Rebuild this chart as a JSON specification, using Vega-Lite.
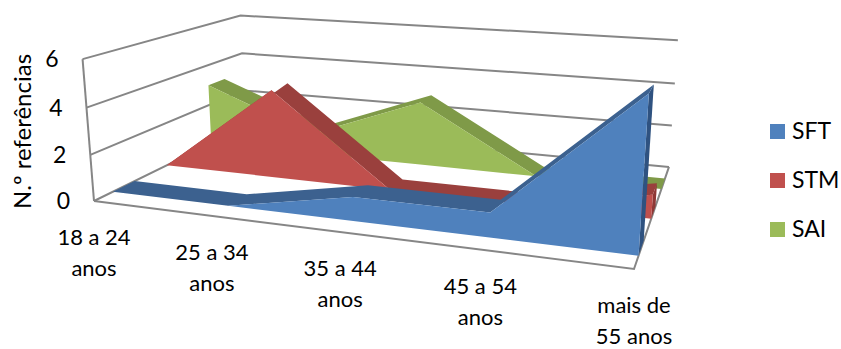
{
  "$schema": "https://vega.github.io/schema/vega-lite/v6.json",
  "autosize": {"type": "none"},
  "width": 841,
  "height": 349,
  "padding": 0,
  "background": "white",
  "config": {"view": {"stroke": null}},
  "datasets": {
    "walls": [
      {"edge": "v0", "seq": 0, "along": 0, "depth": 0, "value": 0},
      {"edge": "v0", "seq": 1, "along": 0, "depth": 1, "value": 0},
      {"edge": "v0", "seq": 2, "along": 1, "depth": 1, "value": 0},
      {"edge": "v2", "seq": 0, "along": 0, "depth": 0, "value": 2},
      {"edge": "v2", "seq": 1, "along": 0, "depth": 1, "value": 2},
      {"edge": "v2", "seq": 2, "along": 1, "depth": 1, "value": 2},
      {"edge": "v4", "seq": 0, "along": 0, "depth": 0, "value": 4},
      {"edge": "v4", "seq": 1, "along": 0, "depth": 1, "value": 4},
      {"edge": "v4", "seq": 2, "along": 1, "depth": 1, "value": 4},
      {"edge": "v6", "seq": 0, "along": 0, "depth": 0, "value": 6},
      {"edge": "v6", "seq": 1, "along": 0, "depth": 1, "value": 6},
      {"edge": "v6", "seq": 2, "along": 1, "depth": 1, "value": 6},
      {"edge": "floor", "seq": 0, "along": 0, "depth": 0, "value": 0},
      {"edge": "floor", "seq": 1, "along": 1, "depth": 0, "value": 0},
      {"edge": "floor", "seq": 2, "along": 1, "depth": 1, "value": 0},
      {"edge": "post", "seq": 0, "along": 0, "depth": 0, "value": 0},
      {"edge": "post", "seq": 1, "along": 0, "depth": 0, "value": 6}
    ],
    "categories": [
      {"label": "18 a 24\nanos", "along": 0},
      {"label": "25 a 34\nanos", "along": 0.25},
      {"label": "35 a 44\nanos", "along": 0.5},
      {"label": "45 a 54\nanos", "along": 0.75},
      {"label": "mais de\n55 anos", "along": 1}
    ],
    "ticks": [{"value": 0}, {"value": 2}, {"value": 4}, {"value": 6}]
  },
  "data": {
    "values": [
      {"series": "SFT", "cat": 0, "value": 0},
      {"series": "SFT", "cat": 1, "value": 0},
      {"series": "SFT", "cat": 2, "value": 1},
      {"series": "SFT", "cat": 3, "value": 1},
      {"series": "SFT", "cat": 4, "value": 6},
      {"series": "STM", "cat": 0, "value": 0},
      {"series": "STM", "cat": 1, "value": 4},
      {"series": "STM", "cat": 2, "value": 0},
      {"series": "STM", "cat": 3, "value": 0},
      {"series": "STM", "cat": 4, "value": 1},
      {"series": "SAI", "cat": 0, "value": 3},
      {"series": "SAI", "cat": 1, "value": 1},
      {"series": "SAI", "cat": 2, "value": 3},
      {"series": "SAI", "cat": 3, "value": 0},
      {"series": "SAI", "cat": 4, "value": 0}
    ]
  },
  "transform": [
    {"calculate": "datum.cat / 4", "as": "along"},
    {"calculate": "datum.series === 'SFT' ? 0.10 : datum.series === 'STM' ? 0.42 : 0.73", "as": "front"},
    {"calculate": "datum.value / 6", "as": "ft"},
    {"calculate": "0", "as": "fb"},
    {"calculate": "datum.value / 6", "as": "bt"},
    {"calculate": "0", "as": "bb"},
    {"fold": ["ft", "fb", "bt", "bb"], "as": ["corner", "t"]},
    {"calculate": "datum.front + (datum.corner === 'bt' || datum.corner === 'bb' ? 0.122 : 0)", "as": "depth"},
    {"calculate": "1 - 0.162 * datum.along + 0.287 * datum.depth - 0.036 * datum.t", "as": "w"},
    {"calculate": "(437.3 * datum.along + 221.3 * datum.depth + 94 - 14.4 * datum.t) / datum.w", "as": "xp"},
    {"calculate": "(24.4 * datum.along - 37.6 * datum.depth + 201 - 144 * datum.t) / datum.w", "as": "yp"},
    {"calculate": "datum.corner === 'ft' ? datum.along : 2 - datum.along", "as": "faceOrder"},
    {"calculate": "datum.corner === 'bt' ? 2 - datum.along : datum.along", "as": "stripOrder"},
    {"calculate": "indexof(['fb', 'ft', 'bt', 'bb'], datum.corner)", "as": "endOrder"}
  ],
  "encoding": {
    "x": {"field": "xp", "type": "quantitative", "scale": {"domain": [0, 841], "nice": false, "zero": false}, "axis": null},
    "y": {
      "field": "yp",
      "type": "quantitative",
      "scale": {"domain": [349, 0], "nice": false, "zero": false},
      "axis": {
        "title": "N.º referências",
        "labels": false,
        "ticks": false,
        "domain": false,
        "grid": false,
        "titleFont": "Lato",
        "titleFontSize": 24,
        "titleFontWeight": "normal",
        "titleColor": "#000000",
        "titleAngle": 270,
        "titleAlign": "center",
        "titleBaseline": "middle",
        "titleX": 23,
        "titleY": 131
      }
    }
  },
  "layer": [
    {
      "data": {"name": "walls"},
      "transform": [
        {"calculate": "datum.value / 6", "as": "t"},
        {"calculate": "1 - 0.162 * datum.along + 0.287 * datum.depth - 0.036 * datum.t", "as": "w"},
        {"calculate": "(437.3 * datum.along + 221.3 * datum.depth + 94 - 14.4 * datum.t) / datum.w", "as": "xp"},
        {"calculate": "(24.4 * datum.along - 37.6 * datum.depth + 201 - 144 * datum.t) / datum.w", "as": "yp"}
      ],
      "mark": {"type": "line", "stroke": "#868686", "strokeWidth": 2},
      "encoding": {"detail": {"field": "edge"}, "order": {"field": "seq", "type": "quantitative"}}
    },
    {
      "transform": [{"filter": "datum.series === 'SAI' && datum.along === 1"}],
      "mark": {"type": "line", "fill": "#7F9A48", "strokeWidth": 0},
      "encoding": {"order": {"field": "endOrder", "type": "quantitative"}}
    },
    {
      "transform": [{"filter": "datum.series === 'SAI' && (datum.corner === 'ft' || datum.corner === 'bt')"}],
      "mark": {"type": "line", "fill": "#7F9A48", "strokeWidth": 0},
      "encoding": {"order": {"field": "stripOrder", "type": "quantitative"}}
    },
    {
      "transform": [{"filter": "datum.series === 'SAI' && (datum.corner === 'ft' || datum.corner === 'fb')"}],
      "mark": {"type": "line", "strokeWidth": 0},
      "encoding": {
        "fill": {"field": "series", "type": "nominal", "scale": {"domain": ["SFT", "STM", "SAI"], "range": ["#4F81BD", "#C0504D", "#9BBB59"]},
          "legend": {"title": null, "orient": "none", "legendX": 766, "legendY": 120, "symbolType": "square", "symbolSize": 225, "symbolStrokeWidth": 0, "labelFont": "Lato", "labelFontSize": 23, "labelColor": "#000000", "rowPadding": 25, "labelOffset": 3}},
        "order": {"field": "faceOrder", "type": "quantitative"}
      }
    },
    {
      "transform": [{"filter": "datum.series === 'STM' && datum.along === 1"}],
      "mark": {"type": "line", "fill": "#8E3836", "strokeWidth": 0},
      "encoding": {"order": {"field": "endOrder", "type": "quantitative"}}
    },
    {
      "transform": [{"filter": "datum.series === 'STM' && (datum.corner === 'ft' || datum.corner === 'bt')"}],
      "mark": {"type": "line", "fill": "#9A403D", "strokeWidth": 0},
      "encoding": {"order": {"field": "stripOrder", "type": "quantitative"}}
    },
    {
      "transform": [{"filter": "datum.series === 'STM' && (datum.corner === 'ft' || datum.corner === 'fb')"}],
      "mark": {"type": "line", "strokeWidth": 0},
      "encoding": {
        "fill": {"field": "series", "type": "nominal"},
        "order": {"field": "faceOrder", "type": "quantitative"}
      }
    },
    {
      "transform": [{"filter": "datum.series === 'SFT' && datum.along === 1"}],
      "mark": {"type": "line", "fill": "#2F5280", "strokeWidth": 0},
      "encoding": {"order": {"field": "endOrder", "type": "quantitative"}}
    },
    {
      "transform": [{"filter": "datum.series === 'SFT' && (datum.corner === 'ft' || datum.corner === 'bt')"}],
      "mark": {"type": "line", "fill": "#3C618F", "strokeWidth": 0},
      "encoding": {"order": {"field": "stripOrder", "type": "quantitative"}}
    },
    {
      "transform": [{"filter": "datum.series === 'SFT' && (datum.corner === 'ft' || datum.corner === 'fb')"}],
      "mark": {"type": "line", "strokeWidth": 0},
      "encoding": {
        "fill": {"field": "series", "type": "nominal"},
        "order": {"field": "faceOrder", "type": "quantitative"}
      }
    },
    {
      "data": {"name": "ticks"},
      "transform": [
        {"calculate": "datum.value / 6", "as": "t"},
        {"calculate": "(94 - 14.4 * datum.t) / (1 - 0.036 * datum.t)", "as": "xp"},
        {"calculate": "(201 - 144 * datum.t) / (1 - 0.036 * datum.t)", "as": "yp"}
      ],
      "mark": {"type": "text", "align": "right", "baseline": "middle", "dx": -24, "dy": 1, "font": "Lato", "fontSize": 23, "color": "#000000"},
      "encoding": {"text": {"field": "value", "type": "quantitative"}}
    },
    {
      "data": {"name": "categories"},
      "transform": [
        {"calculate": "1 - 0.162 * datum.along", "as": "w"},
        {"calculate": "(437.3 * datum.along + 94) / datum.w", "as": "xp"},
        {"calculate": "(24.4 * datum.along + 201) / datum.w", "as": "yp"}
      ],
      "mark": {"type": "text", "align": "center", "baseline": "top", "dx": 0, "dy": 27, "lineBreak": "\n", "lineHeight": 31, "font": "Lato", "fontSize": 22, "color": "#000000"},
      "encoding": {"text": {"field": "label", "type": "nominal"}}
    }
  ]
}
